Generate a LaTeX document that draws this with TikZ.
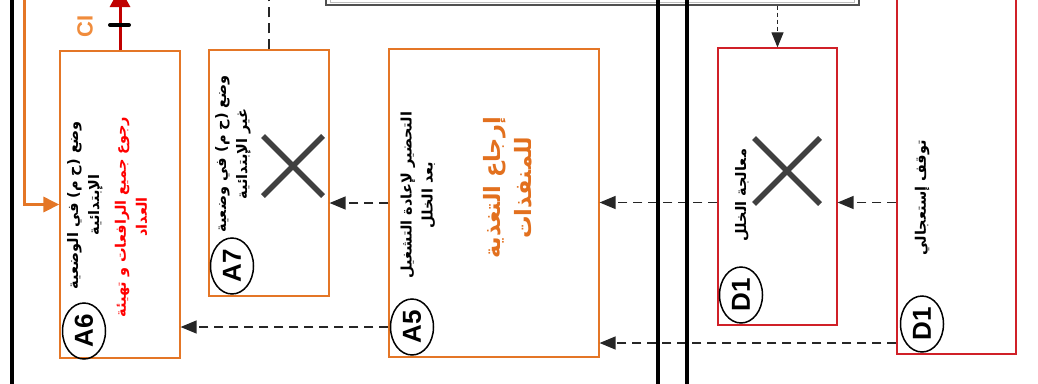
\documentclass[tikz,border=0pt]{standalone}
\usepackage{fontspec}
\usetikzlibrary{arrows.meta,shapes.geometric}
\TeXXeTstate=1
\newfontfamily\arabicfont[Script=Arabic]{DejaVu Sans}
\newfontfamily\labfont{Liberation Sans}
\definecolor{boxorange}{RGB}{228,118,38}
\definecolor{textorange}{RGB}{226,112,30}
\definecolor{ciorange}{RGB}{240,140,60}
\definecolor{boxred}{RGB}{208,32,40}
\definecolor{arrred}{RGB}{192,0,0}
\definecolor{textred}{RGB}{255,0,0}
\definecolor{xgray}{RGB}{64,64,64}
\definecolor{framedark}{RGB}{80,80,80}
\definecolor{framelight}{RGB}{190,190,190}
\begin{document}
\begin{tikzpicture}[x=1pt,y=-1pt,
  abox/.style={draw=boxorange,line width=1.2pt,inner sep=0pt},
  dbox/.style={draw=boxred,line width=1.2pt,inner sep=0pt},
  tag/.style={draw=black,line width=1.5pt,ellipse,rotate=90,minimum width=56pt,
    minimum height=43pt,inner sep=0pt,font=\labfont\bfseries\fontsize{26}{26}\selectfont},
  artext/.style={rotate=90,align=center,inner sep=0pt,
    font=\arabicfont\bfseries\fontsize{14.5}{21}\selectfont},
  darr/.style={draw=black!85,line width=1.4pt,dash pattern=on 9pt off 6pt,
    -{Triangle[length=16pt,width=13pt]}},
  xmark/.style={draw=xgray,line width=5.5pt},
  rail/.style={draw=black,line width=4pt}]
\useasboundingbox (0,0) rectangle (1038,383);
\clip (0,0) rectangle (1038,383);

% stage boxes
\node[abox,minimum width=120pt,minimum height=307pt] (A6) at (120,204.5) {};
\node[abox,minimum width=120pt,minimum height=246pt] (A7) at (269,173) {};
\node[abox,minimum width=210pt,minimum height=308pt] (A5) at (494,203) {};
\node[dbox,minimum width=119pt,minimum height=277pt] (D1m) at (777.5,186.5) {};
\node[dbox,minimum width=119pt,minimum height=404pt] (D1r) at (956.5,152) {};

% system frame along the top
\node[draw=framedark,line width=1.2pt,minimum width=533pt,minimum height=50pt,inner sep=0pt] (sys) at (592.5,-20) {};
\draw[framelight,line width=1.2pt] ([xshift=5pt,yshift=3.5pt]sys.south west) rectangle ([xshift=-5pt]sys.north east);

% levels for the horizontal links
\coordinate (lvMid) at (0,202.5);
\coordinate (lvLow) at (0,327);
\coordinate (lvBot) at (0,343);
\coordinate (feedTop) at (24,-5);
\coordinate (ciTop) at (120,-12);
\coordinate (a7Top) at (269,-5);

% links
\draw[darr] (A5.west) -- (A7.east |- A5.west);
\draw[darr] (A5.west |- lvLow) -- (A6.east |- lvLow);
\draw[darr] (D1m.west |- lvMid) -- (A5.east |- lvMid);
\draw[darr] (D1r.west |- lvMid) -- (D1m.east |- lvMid);
\draw[darr] (D1r.west |- lvBot) -- (A5.east |- lvBot);
\draw[black!85,line width=1pt,dash pattern=on 4pt off 3pt,-{Triangle[length=15pt,width=12pt]}]
  (sys.south -| D1m.north) -- (D1m.north);
\draw[black!85,line width=1.6pt,dash pattern=on 10pt off 6pt] (A7.north) -- (a7Top);
\draw[boxorange,line width=3pt,-{Triangle[length=16pt,width=15pt]}] (feedTop) |- (A6.west);
\draw[arrred,line width=3pt,-{Triangle[length=19pt,width=20pt]}] (A6.north) -- (ciTop);
\draw[black,line width=4pt,line cap=round] (110,25) -- (129,25);
\node[rotate=90,text=ciorange,inner sep=0pt,font=\labfont\bfseries\fontsize{22}{22}\selectfont] (ci) at (85,26) {CI};

% rails
\draw[rail] (12,-2) -- (12,385);
\draw[rail] (658,-2) -- (658,385);
\draw[rail] (687,-2) -- (687,385);

% crosses
\draw[xmark] (263,136) -- (323,196) (263,196) -- (323,136);
\draw[xmark] (754,138) -- (820,204) (754,204) -- (820,138);

% texts
\node[artext] (tA6) at (85,205) {\beginR وضع (ح م) في الوضعية\endR\\\beginR الإبتدائية\endR};
\node[artext,text=textred] (tA6b) at (131,217) {\beginR رجوع جميع الرافعات و تهيئة\endR\\\beginR العداد\endR};
\node[artext] (tA7) at (233,154) {\beginR وضع (ح م) في وضعية\endR\\\beginR غير الإبتدائية\endR};
\node[artext] (tA5) at (418,195) {\beginR التحضير لإعادة التشغيل\endR\\\beginR بعد الخلل\endR};
\node[artext,text=textorange,font=\arabicfont\bfseries\fontsize{22.5}{31}\selectfont] (tA5b) at (508,188) {\beginR إرجاع التغذية\endR\\\beginR للمنفذات\endR};
\node[artext] (tD1m) at (742,195) {\beginR معالجة الخلل\endR};
\node[artext] (tD1r) at (922,198) {\beginR توقف إستعجالي\endR};

% stage tags
\node[tag] (gA6) at (84,331) {A6};
\node[tag] (gA7) at (232,266) {A7};
\node[tag] (gA5) at (412,327) {A5};
\node[tag] (gD1m) at (741,295) {D1};
\node[tag] (gD1r) at (922,324) {D1};
\end{tikzpicture}
\end{document}
